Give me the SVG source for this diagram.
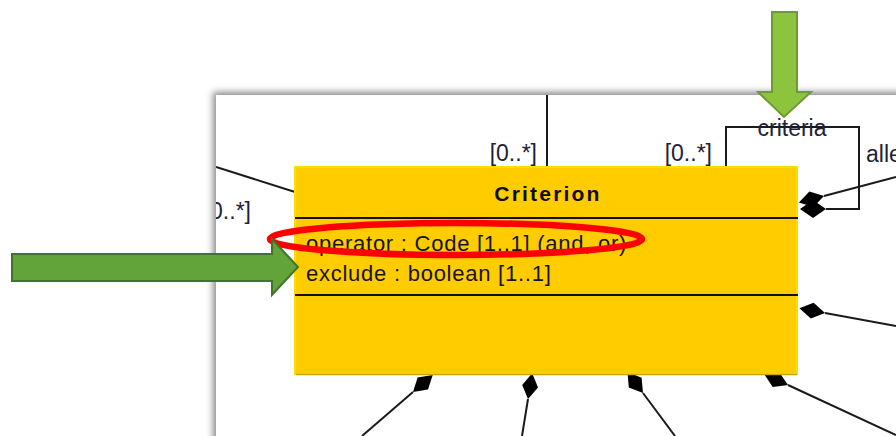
<svg xmlns="http://www.w3.org/2000/svg" width="896" height="436" viewBox="0 0 896 436">
  <defs>
    <filter id="sh" x="-5%" y="-5%" width="110%" height="110%">
      <feGaussianBlur stdDeviation="3.5"/>
    </filter>
    <clipPath id="pageClip">
      <rect x="216" y="95" width="700" height="400"/>
    </clipPath>
    <style>
      .ln { fill: none; stroke: #1a1a1a; stroke-width: 2; }
      .dm { fill: #000; stroke: none; }
      .lbl { font-family: "Liberation Sans", Arial, sans-serif; font-size: 23px; fill: #1e2236; }
      .attr { font-family: "Liberation Sans", Arial, sans-serif; font-size: 22px; fill: #141414; letter-spacing: 0.75px; }
      .title { font-family: "Liberation Sans", Arial, sans-serif; font-size: 21px; font-weight: bold; fill: #0d0d0d; letter-spacing: 2.2px; }
      .sep { stroke: #111; stroke-width: 2; }
    </style>
  </defs>

  <rect x="0" y="0" width="896" height="436" fill="#ffffff"/>

  <!-- page with shadow -->
  <g id="page">
    <rect x="213" y="92" width="700" height="400" fill="#8a8a8a" filter="url(#sh)"/>
    <rect x="216" y="95" width="700" height="400" fill="#ffffff"/>
  </g>

  <!-- connectors -->
  <g id="connectors" clip-path="url(#pageClip)">
    <line class="ln" x1="216" y1="167" x2="295" y2="192"/>
    <line class="ln" x1="547" y1="95" x2="547" y2="167"/>
    <polyline class="ln" points="726,167 726,127 859,127 859,209 826,209"/>
    <line class="ln" x1="824" y1="196" x2="896" y2="177"/>
    <line class="ln" x1="825" y1="313" x2="896" y2="326"/>
    <line class="ln" x1="413" y1="392" x2="362" y2="436"/>
    <line class="ln" x1="528" y1="399" x2="522" y2="436"/>
    <line class="ln" x1="643" y1="393" x2="675" y2="436"/>
    <line class="ln" x1="788" y1="385" x2="896" y2="435"/>
    <polygon class="dm" points="826,209 813,200 800,209 813,218"/>
    <polygon class="dm" points="824,196 813.4,207 798.9,202.6 809.4,191.6"/>
    <polygon class="dm" points="825,313 813.6,302.8 799.4,308.3 810.8,318.6"/>
    <polygon class="dm" points="413,392 428,389.6 432.7,375 417.6,377.4"/>
    <polygon class="dm" points="528,399 538,387.5 532.2,373.3 522.2,384.9"/>
    <polygon class="dm" points="643,393 641.6,377.8 627.5,372.1 628.8,387.4"/>
    <polygon class="dm" points="788,385 779.3,372.3 764.3,374.2 772.7,386.9"/>
  </g>

  <!-- labels -->
  <g id="labels">
    <g clip-path="url(#pageClip)">
      <text class="lbl" x="251" y="219" text-anchor="end">[0..*]</text>
    </g>
    <text class="lbl" x="537" y="161" text-anchor="end">[0..*]</text>
    <text class="lbl" x="712" y="161" text-anchor="end">[0..*]</text>
    <text class="lbl" x="792" y="136" text-anchor="middle">criteria</text>
    <text class="lbl" x="866" y="162">alle</text>
  </g>

  <!-- Criterion class node -->
  <g id="criterion">
    <rect x="295" y="167" width="502" height="207" fill="#FFCC00" stroke="#F7E000" stroke-width="2"/>
    <line x1="296" y1="374.5" x2="797" y2="374.5" stroke="#C9A400" stroke-width="1.5"/>
    <line class="sep" x1="295" y1="218" x2="798" y2="218"/>
    <line class="sep" x1="295" y1="295" x2="798" y2="295"/>
    <text class="title" x="548" y="201" text-anchor="middle">Criterion</text>
    <text class="attr" x="306" y="251">operator : Code [1..1] (and, or)</text>
    <text class="attr" x="306" y="281">exclude : boolean [1..1]</text>
  </g>

  <!-- annotations -->
  <g id="highlight">
    <ellipse cx="456" cy="239" rx="186" ry="16" fill="none" stroke="#FF0000" stroke-width="6.5"/>
  </g>
  <g id="arrow-left">
    <polygon points="12,254 272,254 272,239 298,267 272,295 272,281 12,281" fill="#62A33A" stroke="#41732A" stroke-width="2"/>
  </g>
  <g id="arrow-top">
    <polygon points="772,12 797,12 797,92 811,92 784,117 758,92 772,92" fill="#8DC43E" stroke="#6E9A32" stroke-width="2"/>
  </g>
</svg>
